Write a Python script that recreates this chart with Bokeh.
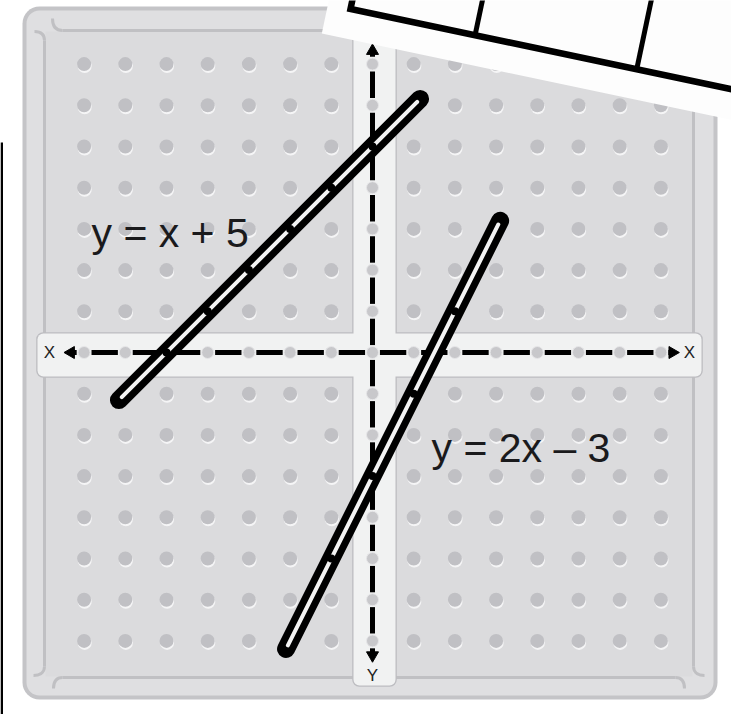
import numpy as np
from bokeh.plotting import figure
from bokeh.models import Range1d
from bokeh.embed import file_html
from bokeh.resources import INLINE
from bokeh.core.properties import value

# ---------------- data ----------------
peg_values = list(range(-7, 8))            # peg coordinates along each axis
band_names = ["y = x + 5", "y = 2x – 3"]   # equations of the two rubber bands
band_slopes = [1, 2]
band_intercepts = [5, -3]
band_x_start = [-6, -2]
band_x_end = [1, 3]
axis_letters = ["X", "X", "Y"]

# ---------------- geometry helpers ----------------
PX = 41.2            # pixels per grid unit
OX, OY = 372, 352    # page pixel of the origin peg
W, H = 731, 714

def X(sx):
    return (sx - OX) / PX

def Y(sy):
    return (OY - sy) / PX

def L(n):
    return n / PX

p = figure(width=W, height=H, output_backend="svg", toolbar_location=None,
           x_range=Range1d(X(0), X(W)), y_range=Range1d(Y(H), Y(0)),
           min_border=0, background_fill_color="white", border_fill_color="white")
p.axis.visible = False
p.grid.visible = False
p.outline_line_color = None

# edge of the neighbouring picture
p.quad(left=X(0), right=X(2.5), top=Y(142), bottom=Y(H + 2),
       fill_color="black", line_color=None)

# ---------------- board ----------------
p.quad(left=X(22), right=X(717), top=Y(6), bottom=Y(699),
       fill_color="#c4c4c7", line_color=None, border_radius=17)
p.quad(left=X(26), right=X(713), top=Y(10), bottom=Y(695),
       fill_color="#dfdfe1", line_color=None, border_radius=13)
p.quad(left=X(45), right=X(692), top=Y(31), bottom=Y(676),
       fill_color="#dbdbdd", line_color=None)

frame_col = "#c0c0c3"
p.segment(x0=[X(44), X(62), X(693), X(62)], y0=[Y(40), Y(30), Y(40), Y(677)],
          x1=[X(44), X(700), X(693), X(675)], y1=[Y(666), Y(30), Y(666), Y(677)],
          line_color=frame_col, line_width=3)
p.bezier(x0=[X(44), X(62), X(44), X(62), X(693), X(675)],
         y0=[Y(40), Y(30), Y(666), Y(677), Y(666), Y(677)],
         x1=[X(34), X(52), X(33), X(53), X(704), X(684)],
         y1=[Y(31), Y(18), Y(675), Y(688), Y(675), Y(688)],
         cx0=[X(44), X(55), X(44), X(55), X(693), X(682)],
         cy0=[Y(33), Y(30), Y(673), Y(677), Y(673), Y(677)],
         cx1=[X(40), X(52), X(38), X(53), X(699), X(684)],
         cy1=[Y(31), Y(25), Y(675), Y(682), Y(675), Y(682)],
         line_color=frame_col, line_width=3)

# ---------------- pegs ----------------
gx, gy = np.meshgrid(peg_values, peg_values)
gx = gx.ravel().astype(float)
gy = gy.ravel().astype(float)
off = (gx != 0) & (gy != 0)
p.scatter(gx[off] + L(0.6), gy[off] - L(2.0), size=14,
          fill_color="#f5f5f6", line_color=None)
p.scatter(gx[off], gy[off], size=14, fill_color="#c0c0c4", line_color=None)

# ---------------- axis strips ----------------
e = L(1.3)
vs = dict(left=X(353), right=X(395), top=Y(16), bottom=Y(685))
hs = dict(left=X(37), right=X(701), top=Y(333), bottom=Y(376))
for s in (vs, hs):
    p.quad(left=s["left"] - e, right=s["right"] + e, top=s["top"] + e,
           bottom=s["bottom"] - e, fill_color="#bdbdc1", line_color=None,
           border_radius=7)
for s in (vs, hs):
    p.quad(left=s["left"], right=s["right"], top=s["top"], bottom=s["bottom"],
           fill_color="#f1f2f2", line_color=None, border_radius=6)

# dashed axes
ks = peg_values[:-1]
dash_a = [k + 0.18 for k in ks] + [peg_values[0] - 0.3, peg_values[-1] + 0.18]
dash_b = [k + 0.82 for k in ks] + [peg_values[0] - 0.18, peg_values[-1] + 0.3]
p.segment(x0=dash_a, y0=[0] * len(dash_a), x1=dash_b, y1=[0] * len(dash_b),
          line_color="black", line_width=5)
p.segment(x0=[0] * len(dash_a), y0=dash_a, x1=[0] * len(dash_b), y1=dash_b,
          line_color="black", line_width=5)
arrow_at = peg_values[-1] + 0.32
p.scatter(x=[-arrow_at, arrow_at - 0.04, 0, 0], y=[0, 0, arrow_at, -arrow_at - 0.03],
          angle=[np.pi / 2, -np.pi / 2, 0, np.pi], marker="triangle",
          size=12, fill_color="black", line_color="black", line_width=1)
on = ~off
p.scatter(gx[on], gy[on], size=12, fill_color="#c8c8cb", line_color="#e6e6e8",
          line_width=1)

p.text(x=[X(49), X(689), 0], y=[0, 0, Y(675)], text=axis_letters,
       text_font=value("Liberation Sans"), text_font_size="17px",
       text_align="center", text_baseline="middle", text_color="#222222")

# ---------------- rubber bands ----------------
bx0, by0, bx1, by1 = [], [], [], []
ix0, iy0, ix1, iy1 = [], [], [], []
kx, ky = [], []
for m, b, xa, xb in zip(band_slopes, band_intercepts, band_x_start, band_x_end):
    d = np.array([1.0, m]) / np.hypot(1.0, m)
    a = np.array([xa, m * xa + b], float)
    z = np.array([xb, m * xb + b], float)
    s0, s1 = a - 0.22 * d, z + 0.22 * d
    t0, t1 = a - 0.12 * d, z + 0.12 * d
    bx0.append(s0[0]); by0.append(s0[1]); bx1.append(s1[0]); by1.append(s1[1])
    ix0.append(t0[0]); iy0.append(t0[1]); ix1.append(t1[0]); iy1.append(t1[1])
    for xi in range(xa + 1, xb):
        kx.append(xi); ky.append(m * xi + b)

p.segment(x0=bx0, y0=by0, x1=bx1, y1=by1, line_color="black", line_width=18,
          line_cap="round")
p.segment(x0=ix0, y0=iy0, x1=ix1, y1=iy1, line_color="#f3f3f3", line_width=4,
          line_cap="round")
p.scatter(kx, ky, size=8, fill_color="black", line_color=None)

# equation labels
p.text(x=[X(91), X(431)], y=[Y(232), Y(447)], text=band_names,
       text_font=value("Liberation Sans"), text_font_size="41px",
       text_align="left", text_baseline="alphabetic", text_color="#1a1a1c")

# ---------------- corner of the table sheet ----------------
th = np.deg2rad(-11.9)
eu = np.array([np.cos(th), np.sin(th)])
ev = np.array([-np.sin(th), np.cos(th)])
C = np.array([X(350), Y(8.5)])
paper = [C - L(23) * eu - L(30) * ev, C + 25 * eu - L(30) * ev,
         C + 25 * eu + 25 * ev, C - L(23) * eu + 25 * ev]
p.patch([q[0] for q in paper], [q[1] for q in paper], fill_color="#fdfdfd",
        line_color=None)
border = [C + 10 * ev, C, C + 25 * eu]
p.line([q[0] for q in border], [q[1] for q in border], line_color="black",
       line_width=6.5, line_join="miter")
col_edges = [L(127.3), L(292.5)]
p.segment(x0=[(C + u * eu)[0] for u in col_edges],
          y0=[(C + u * eu)[1] for u in col_edges],
          x1=[(C + u * eu + 10 * ev)[0] for u in col_edges],
          y1=[(C + u * eu + 10 * ev)[1] for u in col_edges],
          line_color="black", line_width=5)

open("out.html", "w").write(file_html(p, INLINE))
